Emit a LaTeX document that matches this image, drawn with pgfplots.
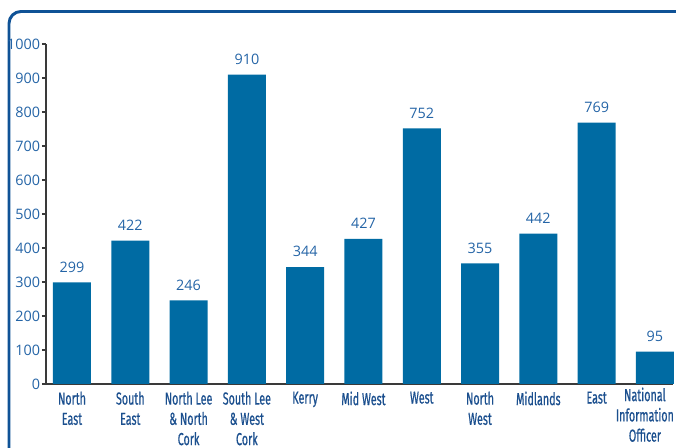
\documentclass[border=0pt]{standalone}
\usepackage{pgfplots}
\pgfplotsset{compat=1.18}
\usepackage{fontspec}
\setmainfont{Open Sans}
\newfontfamily\condfont[FakeStretch=0.62, FakeBold=0.6]{Fira Sans}

\definecolor{barblue}{HTML}{006BA3}
\definecolor{numblue}{HTML}{2464A6}
\definecolor{catblue}{HTML}{1B4F8E}
\definecolor{frameblue}{HTML}{0F5296}
\definecolor{axisgray}{HTML}{3A3A3A}

\begin{document}
\begin{tikzpicture}[x=0.75pt,y=0.75pt]
  \path[use as bounding box] (0,0) rectangle (676,448);
  \begin{scope}
    \clip (0,0) rectangle (676,448);
    \draw[frameblue, line width=2.2pt, rounded corners=9pt] (9,-20) -- (9,436.5) -- (720,436.5);
  \end{scope}
  \begin{axis}[
      at={(34.5pt,48pt)}, anchor=south west,
      scale only axis,
      width=470.25pt, height=255pt,
      ymin=0, ymax=1000,
      xmin=-0.446, xmax=10.31,
      axis x line*=bottom, axis y line*=left,
      axis line style={axisgray, line width=0.9pt},
      ytick={0,100,...,1000},
      ytick style={axisgray, line width=0.8pt},
      tick align=outside,
      major tick length=3pt,
      xtick={0,...,9},
      xtick style={draw=none},
      xticklabels={{North\\East},{South\\East},{North Lee\\\& North\\Cork},{South Lee\\\& West\\Cork},{Kerry},{Mid West},{West},{North\\West},{Midlands},{East}},
      extra x ticks={10},
      extra x tick labels={{National\\Information\\Officer}},
      extra x tick style={xticklabel style={xshift=-7.5pt}, major tick length=0pt},
      xticklabel style={align=center, font=\condfont\fontsize{13}{15.2}\selectfont, text=catblue, inner sep=1pt, yshift=-1.5pt},
      yticklabel style={font=\fontsize{10.8}{12}\selectfont, text=numblue, inner sep=1.2pt},
      /pgf/number format/assume math mode=true,
      /pgf/number format/1000 sep={},
      ybar, bar width=28.5pt,
      nodes near coords,
      nodes near coords style={font=\fontsize{10.8}{12}\selectfont, text=numblue, yshift=4pt},
      clip=false,
    ]
    \addplot[fill=barblue, draw=none] coordinates {
      (0,299) (1,422) (2,246) (3,910) (4,344) (5,427)
      (6,752) (7,355) (8,442) (9,769) (10,95)
    };
  \end{axis}
\end{tikzpicture}
\end{document}
